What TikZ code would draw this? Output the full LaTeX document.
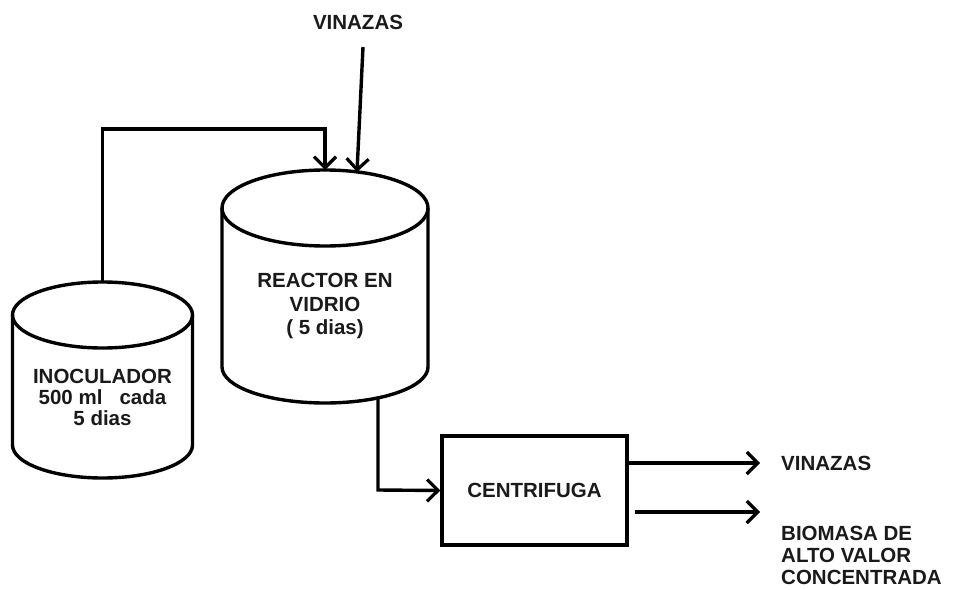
\documentclass[tikz,border=0pt]{standalone}
\usepackage{fontspec}
\setmainfont{Liberation Sans}
\usetikzlibrary{arrows.meta}
\definecolor{ink}{HTML}{1A1A1A}
\begin{document}
\begin{tikzpicture}[x=1pt,y=-1pt,
  lbl/.style={font=\bfseries\fontsize{20.5}{21}\selectfont, align=center, inner sep=0pt, text=ink},
  cyl/.style={line width=3.4pt},
  flow/.style={line width=3.4pt, -{Straight Barb[length=11pt,width=22pt,line width=3.2pt]}},
  plain/.style={line width=3.4pt}]
\useasboundingbox (0,0) rectangle (961,589);
% Inoculador cylinder
\draw[cyl] (102.5,315) ellipse [x radius=90, y radius=33];
\draw[cyl] (12.5,315) -- (12.5,445) arc[start angle=180, end angle=0, x radius=90, y radius=33] -- (192.5,315);
\node[lbl] (inoc) at (102.5,397) {INOCULADOR\\500 ml\ \ \ cada\\5 dias};
\coordinate (inoctop) at (102.5,282);
% Reactor cylinder
\draw[cyl] (325,208) ellipse [x radius=103, y radius=38];
\draw[cyl] (222,208) -- (222,367) arc[start angle=180, end angle=0, x radius=103, y radius=36] -- (428,208);
\node[lbl, font=\bfseries\fontsize{20.5}{23.5}\selectfont] (reac) at (325,306) {REACTOR EN\\VIDRIO\\( 5 dias)};
\coordinate (reactop) at (325,170);
\coordinate (reacvin) at (357,172);
\coordinate (reacbot) at (378,398);
% Centrifuga
\node[draw, line width=3.4pt, minimum width=185pt, minimum height=109pt, inner sep=0pt] (cent) at (534.5,490.5) {};
\node[lbl] (centl) at (534.5,490) {CENTRIFUGA};
% labels
\node[lbl] (vin1) at (358,22) {VINAZAS};
\coordinate (vin1s) at (363,47);
\node[lbl, anchor=west] (vin2) at (781,463) {VINAZAS};
\node[lbl, anchor=north west, align=left, font=\bfseries\fontsize{20.5}{22}\selectfont] (bio) at (781,526) {BIOMASA DE\\ALTO VALOR\\CONCENTRADA};
% connectors
\draw[flow] (inoctop) -- (102.5,129) -- (325,129) -- (reactop);
\draw[flow] (vin1s) -- (reacvin);
\draw[flow] (reacbot) -- (378,490) -- (cent.west);
\draw[flow] (cent.east |- 0,463) -- (vin2.west -| 760,0);
\draw[flow] (635,512) -- (760,512);
\end{tikzpicture}
\end{document}
